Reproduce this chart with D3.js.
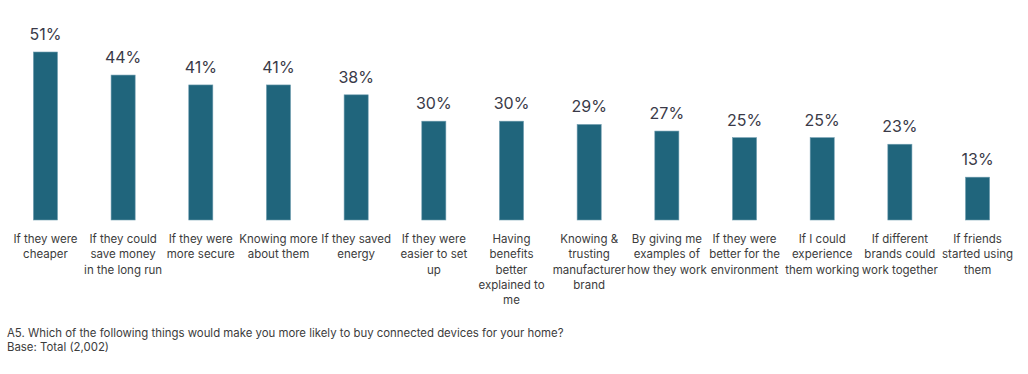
<!DOCTYPE html>
<html>
  <head>
    <meta charset="utf-8">
    <title>Connected devices</title>
    <script src="https://cdn.jsdelivr.net/npm/d3@7"></script>
    <style>
      body { margin: 0; background: #fff; }
      text { font-family: Inter, "Noto Sans", sans-serif; }
    </style>
  </head>
  <body>
    <svg></svg>
    <script>
      // categories, with their line breaks as shown under each bar
      var categories = [
        "If they were|cheaper",
        "If they could|save money|in the long run",
        "If they were|more secure",
        "Knowing more|about them",
        "If they saved|energy",
        "If they were|easier to set|up",
        "Having|benefits|better|explained to|me",
        "Knowing &|trusting|manufacturer|brand",
        "By giving me|examples of|how they work",
        "If they were|better for the|environment",
        "If I could|experience|them working",
        "If different|brands could|work together",
        "If friends|started using|them"
      ];
      var values = [51, 44, 41, 41, 38, 30, 30, 29, 27, 25, 25, 23, 13];

      var question = "A5. Which of the following things would make you more likely to buy connected devices for your home?";
      var base = "Base: Total (2,002)";

      var width = 1028, height = 374;
      var svg = d3.select("svg")
                  .attr("width", width)
                  .attr("height", height);

      var x = d3.scaleBand()
                .domain(categories)
                .range([7, 1016])
                .paddingInner(0.69)
                .paddingOuter(0.34);

      var y = d3.scaleLinear()
                .domain([0, d3.max(values)])
                .range([220, 52]);

      var data = categories.map(function(c, i) {
        return { cat: c, value: values[i] };
      });

      svg.selectAll("rect.bar")
         .data(data)
         .enter().append("rect")
         .attr("class", "bar")
         .attr("x", function(d) { return x(d.cat); })
         .attr("y", function(d) { return y(d.value); })
         .attr("width", x.bandwidth())
         .attr("height", function(d) { return y(0) - y(d.value); })
         .attr("fill", "#20657c")
         .attr("stroke", "#6f9db0")
         .attr("stroke-width", 0.6);

      // value labels
      svg.selectAll("text.val")
         .data(data)
         .enter().append("text")
         .attr("class", "val")
         .attr("x", function(d) { return x(d.cat) + x.bandwidth() / 2; })
         .attr("y", function(d) { return y(d.value) - 12; })
         .attr("text-anchor", "middle")
         .attr("font-size", 16)
         .attr("fill", "#3a3a48")
         .text(function(d) { return d.value + "%"; });

      // category labels, one tspan per line
      var cats = svg.selectAll("text.cat")
                    .data(data)
                    .enter().append("text")
                    .attr("class", "cat")
                    .attr("text-anchor", "middle")
                    .attr("font-size", 11.5)
                    .attr("fill", "#3c3c3c");
      cats.selectAll("tspan")
          .data(function(d) {
            var cx = x(d.cat) + x.bandwidth() / 2;
            return d.cat.split("|").map(function(l) { return { cx: cx, line: l }; });
          })
          .enter().append("tspan")
          .attr("x", function(d) { return d.cx; })
          .attr("y", function(d, i) { return 243 + i * 15.3; })
          .text(function(d) { return d.line; });

      // footnote
      svg.append("text")
         .attr("x", 7).attr("y", 336.5)
         .attr("font-size", 11.4)
         .attr("fill", "#3c3c3c")
         .text(question);
      svg.append("text")
         .attr("x", 7).attr("y", 350.5)
         .attr("font-size", 11.4)
         .attr("fill", "#3c3c3c")
         .text(base);
    </script>
  </body>
</html>
